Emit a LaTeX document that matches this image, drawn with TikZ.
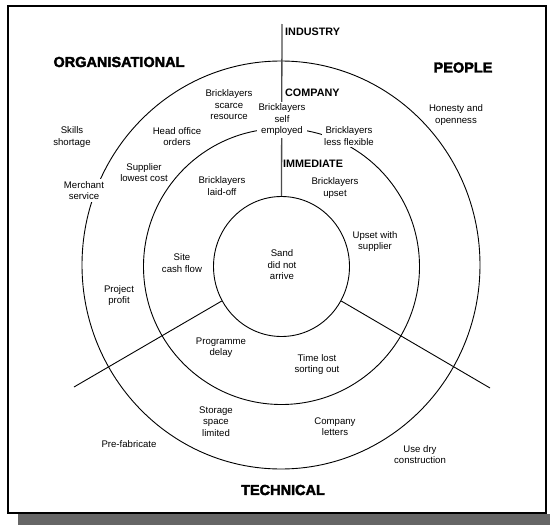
\documentclass[tikz,border=0pt]{standalone}
\usepackage{fontspec}
\setmainfont{Liberation Sans}
\newfontfamily\heavyfont[FakeBold=2.5]{Liberation Sans Bold}
\usetikzlibrary{shapes.geometric}

\tikzset{
  ring/.style={draw=black, line width=0.9pt, ellipse, inner sep=0pt},
  divider/.style={draw=black, line width=0.9pt},
  axisline/.style={draw=black!70, line width=1.3pt},
  lbl/.style={font=\fontsize{9.6}{11.5}\selectfont, align=center, inner sep=1pt},
  masked/.style={lbl, fill=white, inner sep=2pt},
  lvlhead/.style={font=\bfseries\fontsize{10.8}{12}\selectfont, anchor=west, inner sep=0pt},
  domainhead/.style={font=\heavyfont\fontsize{14.5}{16}\selectfont, inner sep=0pt},
}

\begin{document}
\begin{tikzpicture}[x=1pt, y=-1pt]
  \useasboundingbox (0,0) rectangle (550,525);

  % drop shadow and frame
  \fill[black!60] (18,514) rectangle (550,525);
  \draw[line width=2.5pt, fill=white] (8,6) rectangle (546,513);

  % concentric rings
  \coordinate (c) at (281.5,266.5);
  \coordinate (co) at (281,265);
  \node[ring, minimum width=398pt, minimum height=408pt] (outer) at (co) {};
  \node[ring, minimum width=276pt, minimum height=276pt] (middle) at (c) {};
  \node[ring, minimum width=136pt, minimum height=140pt] (inner) at (c) {};

  % sector dividers
  \coordinate (top) at (282,24);
  \coordinate (sw) at (74,387);
  \coordinate (se) at (490,388);
  \draw[axisline] (inner.north) -- (top);
  \draw[divider] (inner.210) -- (sw);
  \draw[divider] (inner.330) -- (se);

  % domain headings
  \node[domainhead] (org) at (119,62) {ORGANISATIONAL};
  \node[domainhead] (people) at (463,67.5) {PEOPLE};
  \node[domainhead] (tech) at (283,490) {TECHNICAL};

  % level headings
  \node[lvlhead] (industry) at (285,32) {INDUSTRY};
  \node[lvlhead] (companyh) at (285,93) {COMPANY};
  \node[lvlhead] (immediate) at (283,164) {IMMEDIATE};

  % ring labels
  \node[lbl] (scarce) at (229,105) {Bricklayers\\scarce\\resource};
  \node[masked] (selfemp) at (282,120) {Bricklayers\\self\\employed};
  \node[masked] (lessflex) at (349,136) {Bricklayers\\less flexible};
  \node[lbl] (skills) at (72,137) {Skills\\shortage};
  \node[lbl] (headoff) at (177,136.5) {Head office\\orders};
  \node[lbl] (honesty) at (456,115) {Honesty and\\openness};
  \node[lbl] (supplier) at (144,172.5) {Supplier\\lowest cost};
  \node[masked] (merchant) at (84,190.5) {Merchant\\service};
  \node[lbl] (laidoff) at (222,186) {Bricklayers\\laid-off};
  \node[lbl] (upset) at (335,188) {Bricklayers\\upset};
  \node[lbl] (upsetsup) at (375,241.5) {Upset with\\supplier};
  \node[lbl] (site) at (182,263) {Site\\cash flow};
  \node[lbl] (sand) at (282,265) {Sand\\did not\\arrive};
  \node[lbl] (project) at (119,295.5) {Project\\profit};
  \node[lbl] (programme) at (221,347.5) {Programme\\delay};
  \node[lbl] (timelost) at (317,364.5) {Time lost\\sorting out};
  \node[lbl] (storage) at (216,421.5) {Storage\\space\\limited};
  \node[lbl] (letters) at (335,426.5) {Company\\letters};
  \node[lbl] (prefab) at (129,444) {Pre-fabricate};
  \node[lbl] (usedry) at (420,454.5) {Use dry\\construction};
\end{tikzpicture}
\end{document}
